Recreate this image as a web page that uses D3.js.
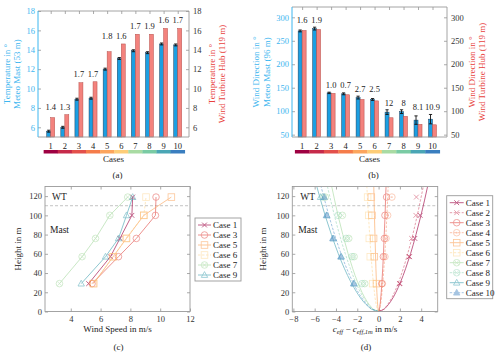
<!DOCTYPE html>
<html lang="en">
<head>
<meta charset="utf-8">
<script src="https://cdn.jsdelivr.net/npm/d3@7"></script>
<style>
body{margin:0;background:#fff}
svg text{font-family:"Liberation Serif","DejaVu Serif",serif;fill:#222}
</style>
</head>
<body>
<svg width="500" height="355"></svg>
<script>
// ---- data ----
var cases = [1,2,3,4,5,6,7,8,9,10];
var caseColors = ["#9e0142","#c62a4a","#e3504b","#f57c4a","#fca55d","#fdcd78","#a9dba3","#7acba4","#4aa6b5","#3a7ebf"];

var tempMast = [5.6, 6.0, 8.9, 9.0, 12.0, 13.1, 13.9, 13.7, 14.6, 14.5];
var tempMastErr = [0.1,0.1,0.1,0.1,0.1,0.1,0.1,0.1,0.1,0.1];
var tempHub = [7.0, 7.3, 10.6, 10.7, 13.8, 14.6, 15.6, 15.6, 16.2, 16.2];
var tempLabels = ["1.4","1.3","1.7","1.7","1.8","1.6","1.7","1.9","1.6","1.7"];
var tempTicks = [6,8,10,12,14,16,18];

var dirMast = [271, 276, 139, 137, 129, 125, 98, 99, 81, 83];
var dirMastErr = [2, 3, 1.5, 2, 3, 2, 5, 4, 9, 10];
var dirHub = [272, 274, 138, 135, 125, 122, 86, 89, 72, 71];
var dirLabels = ["1.6","1.9","1.0","0.7","2.7","2.5","12","8","8.1","10.9"];
var dirTicks = [50,100,150,200,250,300];

var heights = [29, 57, 76, 100, 119];
var speedCases = [1, 3, 5, 6, 7, 9];
var speed1 = [5.2, 6.66, 7.3, 8.1, 8.15];
var speed3 = [5.43, 7.2, 8.4, 9.68, 9.72];
var speed5 = [5.54, 6.84, 7.74, 8.9, 10.75];
var speed6 = [5.5, 6.85, 7.7, 8.9, 9.05];
var speed7 = [3.24, 4.76, 5.66, 6.62, 7.82];
var speed9 = [4.7, 6.33, 7.2, 7.74, 8.15];

var devPoints = [
  [2.0, 2.9, 3.4, 3.9, null],
  [1.95, 2.85, 3.1, 3.5, 3.55],
  [0.3, 0.45, 0.55, 0.6, 0.75],
  [0.35, 0.6, 0.7, 0.85, 1.25],
  [-0.2, -0.4, -0.47, -0.62, -0.68],
  [-0.56, -0.78, -0.87, -0.93, -1.03],
  [-1.3, -2.3, -2.8, -3.4, -5.0],
  [-1.55, -2.5, -3.05, -3.8, -5.2],
  [-2.3, -3.5, -4.25, -4.85, -5.45],
  [-2.35, -3.55, -4.3, -4.9, -5.1]
];
var curveHeights = [0, 2, 5, 10, 20, 30, 45, 60, 80, 100, 115, 130];
var devCurves = [
  [0, 0.45, 0.75, 1.11, 1.63, 2.04, 2.55, 3.0, 3.51, 3.98, 4.3, 4.6],
  [0, 0.42, 0.69, 1.01, 1.49, 1.86, 2.33, 2.73, 3.21, 3.63, 3.92, 4.2],
  [0, 0.07, 0.11, 0.17, 0.25, 0.31, 0.39, 0.46, 0.53, 0.61, 0.65, 0.7],
  [0, 0.09, 0.15, 0.22, 0.32, 0.4, 0.5, 0.59, 0.69, 0.78, 0.84, 0.9],
  [0, -0.04, -0.07, -0.11, -0.16, -0.2, -0.25, -0.29, -0.34, -0.39, -0.42, -0.45],
  [0, -0.11, -0.18, -0.27, -0.39, -0.49, -0.61, -0.72, -0.84, -0.95, -1.03, -1.1],
  [0, -0.44, -0.72, -1.06, -1.56, -1.95, -2.44, -2.86, -3.36, -3.81, -4.11, -4.4],
  [0, -0.48, -0.79, -1.16, -1.7, -2.13, -2.66, -3.12, -3.67, -4.15, -4.48, -4.8],
  [0, -0.57, -0.95, -1.4, -2.05, -2.57, -3.22, -3.78, -4.43, -5.02, -5.42, -5.8],
  [0, -0.53, -0.89, -1.3, -1.91, -2.39, -3.0, -3.52, -4.13, -4.67, -5.04, -5.4]
];
var markerTypes = ["x","x","o","od","s","s","ox","ox","t","tf"];

var svg = d3.select("svg");
var blueAxis = "#3db6ef", redTitle = "#e8413c", frameCol = "#9a9a9a";
var solidOp = 0.62, dashOp = 0.45;

function marker(g, type, cx, cy, color) {
  var s = 3.3;
  if (type == "x") {
    g.append("path").attr("d", "M"+(cx-2.4)+","+(cy-2.4)+"L"+(cx+2.4)+","+(cy+2.4)+"M"+(cx-2.4)+","+(cy+2.4)+"L"+(cx+2.4)+","+(cy-2.4))
      .attr("stroke", color).attr("stroke-width", 1);
  } else if (type == "o" || type == "od" || type == "ox") {
    g.append("circle").attr("cx", cx).attr("cy", cy).attr("r", s)
      .attr("fill", "none").attr("stroke", color).attr("stroke-width", 0.8);
    if (type == "od") g.append("circle").attr("cx", cx).attr("cy", cy).attr("r", 0.9).attr("fill", color);
    if (type == "ox") g.append("path").attr("d", "M"+(cx-2.2)+","+(cy-2.2)+"L"+(cx+2.2)+","+(cy+2.2)+"M"+(cx-2.2)+","+(cy+2.2)+"L"+(cx+2.2)+","+(cy-2.2))
      .attr("stroke", color).attr("stroke-width", 0.7);
  } else if (type == "s") {
    g.append("rect").attr("x", cx-s).attr("y", cy-s).attr("width", 2*s).attr("height", 2*s)
      .attr("fill", "none").attr("stroke", color).attr("stroke-width", 0.8);
  } else if (type == "t" || type == "tf") {
    g.append("path").attr("d", "M"+cx+","+(cy-3.4)+"L"+(cx+3.2)+","+(cy+2.4)+"L"+(cx-3.2)+","+(cy+2.4)+"Z")
      .attr("fill", type == "tf" ? color : "none").attr("stroke", color).attr("stroke-width", 0.8);
  }
}

function styleAxis(a, col) {
  a.select(".domain").remove();
  a.selectAll(".tick line").attr("stroke", "#aaa");
  a.selectAll(".tick text").attr("font-size", "8.5px").style("fill", col || "#333");
}

// ---- bar panels (a), (b) ----
function barPanel(o) {
  var x = d3.scaleLinear().domain(o.xDom).range([o.left, o.right]);
  var y = d3.scaleLinear().domain(o.yDom).range([o.bottom, o.top]);
  var g = svg.append("g");
  var bw = 4;

  g.append("g").attr("transform", "translate("+o.left+",0)")
    .call(d3.axisLeft(y).tickValues(o.ticks).tickSize(-3).tickPadding(3))
    .call(function(a){ styleAxis(a, blueAxis); });
  g.append("g").attr("transform", "translate("+o.right+",0)")
    .call(d3.axisRight(y).tickValues(o.ticks).tickSize(-3).tickPadding(4))
    .call(function(a){ styleAxis(a, "#333"); });
  g.append("g").attr("transform", "translate(0,"+o.top+")")
    .call(d3.axisTop(x).tickValues(cases).tickSize(-3).tickFormat(""))
    .call(function(a){ styleAxis(a); });

  // bars
  g.selectAll(".bm").data(o.mast).enter().append("rect")
    .attr("x", function(d,i){ return x(cases[i]) - bw; })
    .attr("y", function(d){ return y(d); })
    .attr("width", bw)
    .attr("height", function(d){ return o.bottom - y(d); })
    .attr("fill", "#1b9fe2").attr("stroke", "#1d3e5c").attr("stroke-width", 0.5);
  g.selectAll(".bh").data(o.hub).enter().append("rect")
    .attr("x", function(d,i){ return x(cases[i]); })
    .attr("y", function(d){ return y(d); })
    .attr("width", bw)
    .attr("height", function(d){ return o.bottom - y(d); })
    .attr("fill", "#f3827d").attr("stroke", "#b5504c").attr("stroke-width", 0.5);

  // error bars on mast bars
  o.mast.forEach(function(d, i) {
    var cx = x(cases[i]) - bw/2, e = o.err[i];
    g.append("path")
      .attr("d", "M"+cx+","+y(d-e)+"V"+y(d+e)+"M"+(cx-1.6)+","+y(d+e)+"H"+(cx+1.6)+"M"+(cx-1.6)+","+y(d-e)+"H"+(cx+1.6))
      .attr("stroke", "#111").attr("stroke-width", 0.9).attr("fill", "none");
  });

  // value labels, one level per pair of cases
  o.labels.forEach(function(t, i) {
    var j = i - i % 2;
    var top = d3.max([o.mast[j] + o.err[j], o.mast[j+1] + o.err[j+1], o.hub[j], o.hub[j+1]]);
    g.append("text").attr("x", x(cases[i])).attr("y", y(top) - o.labelGap)
      .attr("text-anchor", "middle").attr("font-size", "8.5px").text(t);
  });

  // frame
  g.append("path").attr("d", "M"+o.left+","+o.top+"H"+o.right+"V"+o.bottom+"H"+o.left)
    .attr("fill", "none").attr("stroke", frameCol).attr("stroke-width", 0.9);
  g.append("line").attr("x1", o.left).attr("x2", o.left).attr("y1", o.top).attr("y2", o.bottom)
    .attr("stroke", blueAxis).attr("stroke-width", 1);

  // case numbers + colour strip
  g.selectAll(".cn").data(cases).enter().append("text")
    .attr("x", function(d){ return x(d); }).attr("y", o.bottom + 11.5)
    .attr("text-anchor", "middle").attr("font-size", "8.5px").text(function(d){ return d; });
  g.selectAll(".cb").data(cases).enter().append("rect")
    .attr("x", function(d){ return x(d - 0.5); }).attr("y", o.bottom + 13)
    .attr("width", function(d){ return x(d + 0.5) - x(d - 0.5) + 0.3; }).attr("height", 3.5)
    .attr("fill", function(d, i){ return caseColors[i]; });
  g.append("text").attr("x", (o.left + o.right)/2).attr("y", o.bottom + 24.5)
    .attr("text-anchor", "middle").attr("font-size", "9px").text("Cases");

  // axis titles
  function title(xp, lines, col, cy) {
    lines.forEach(function(t, k) {
      g.append("text").attr("transform", "translate("+(xp[k])+","+cy+") rotate(-90)")
        .attr("text-anchor", "middle").attr("font-size", "9px").style("fill", col).text(t);
    });
  }
  var cy = (o.top + o.bottom) / 2;
  title(o.leftTitleX, o.leftTitle, blueAxis, cy);
  title(o.rightTitleX, o.rightTitle, redTitle, cy);

  g.append("text").attr("x", (o.left + o.right)/2 + 4).attr("y", 178)
    .attr("text-anchor", "middle").attr("font-size", "9px").text(o.caption);
}

barPanel({
  left: 38, right: 189, top: 11, bottom: 137,
  xDom: [0.1, 10.8], yDom: [5, 18], ticks: tempTicks,
  mast: tempMast, hub: tempHub, err: tempMastErr, labels: tempLabels, labelGap: 5,
  leftTitle: ["Temperature in °", "Meteo Mast (53 m)"], leftTitleX: [10, 20],
  rightTitle: ["Temperature in °", "Wind Turbine Hub (119 m)"], rightTitleX: [215, 225],
  caption: "(a)"
});
barPanel({
  left: 292, right: 447, top: 7, bottom: 137,
  xDom: [0.3, 11], yDom: [45, 322], ticks: dirTicks,
  mast: dirMast, hub: dirHub, err: dirMastErr, labels: dirLabels, labelGap: 4,
  leftTitle: ["Wind Direction in °", "Meteo Mast (96 m)"], leftTitleX: [259, 270],
  rightTitle: ["Wind Direction in °", "Wind Turbine Hub (119 m)"], rightTitleX: [475, 485],
  caption: "(b)"
});

// ---- profile panels (c), (d) ----
function profilePanel(o) {
  var x = d3.scaleLinear().domain(o.xDom).range([o.left, o.right]);
  var y = d3.scaleLinear().domain([0, 130]).range([o.bottom, o.top]);
  var g = svg.append("g");
  var yt = [0,20,40,60,80,100,120];

  g.append("g").attr("transform", "translate(0,"+o.bottom+")")
    .call(d3.axisBottom(x).tickValues(o.xTicks).tickSize(-3).tickPadding(4))
    .call(function(a){ styleAxis(a); });
  g.append("g").attr("transform", "translate(0,"+o.top+")")
    .call(d3.axisTop(x).tickValues(o.xTicks).tickSize(-3).tickFormat(""))
    .call(function(a){ styleAxis(a); });
  g.append("g").attr("transform", "translate("+o.left+",0)")
    .call(d3.axisLeft(y).tickValues(yt).tickSize(-3).tickPadding(3))
    .call(function(a){ styleAxis(a); });
  g.append("g").attr("transform", "translate("+o.right+",0)")
    .call(d3.axisRight(y).tickValues(yt).tickSize(-3).tickFormat(""))
    .call(function(a){ styleAxis(a); });

  var clipId = "clip" + o.caption.charAt(1);
  svg.append("clipPath").attr("id", clipId).append("rect")
    .attr("x", o.left).attr("y", o.top).attr("width", o.right - o.left).attr("height", o.bottom - o.top);

  g.append("line").attr("x1", o.left).attr("x2", o.right).attr("y1", y(110)).attr("y2", y(110))
    .attr("stroke", "#bbb").attr("stroke-dasharray", "3,2").attr("stroke-width", 0.9);

  var plot = g.append("g").attr("clip-path", "url(#"+clipId+")");
  o.draw(plot, x, y);

  g.append("rect").attr("x", o.left).attr("y", o.top).attr("width", o.right - o.left).attr("height", o.bottom - o.top)
    .attr("fill", "none").attr("stroke", frameCol).attr("stroke-width", 0.9);

  g.append("text").attr("x", o.left + o.wtDx).attr("y", y(120) + 3.5).attr("font-size", "9.5px").text("WT");
  g.append("text").attr("x", o.left + o.wtDx - 2).attr("y", y(85) + 3.5).attr("font-size", "9.5px").text("Mast");

  g.append("text").attr("transform", "translate("+o.yTitleX+","+((o.top+o.bottom)/2)+") rotate(-90)")
    .attr("text-anchor", "middle").attr("font-size", "9px").text("Height in m");
  var xl = g.append("text").attr("x", (o.left + o.right)/2).attr("y", 332)
    .attr("text-anchor", "middle").attr("font-size", "9px");
  o.xTitle(xl);
  g.append("text").attr("x", (o.left + o.right)/2 + 1).attr("y", 350)
    .attr("text-anchor", "middle").attr("font-size", "9px").text(o.caption);

  // legend
  var lg = g.append("g");
  lg.append("rect").attr("x", o.leg.x).attr("y", o.leg.y).attr("width", o.leg.w)
    .attr("height", o.leg.entries.length * 10 + 3)
    .attr("fill", "#fff").attr("stroke", frameCol).attr("stroke-width", 0.9);
  o.leg.entries.forEach(function(e, k) {
    var yy = o.leg.y + 7 + k * 10;
    var mg = lg.append("g").attr("opacity", e.dash ? dashOp : solidOp);
    mg.append("line").attr("x1", o.leg.x + 3).attr("x2", o.leg.x + 3 + o.leg.lw)
      .attr("y1", yy).attr("y2", yy).attr("stroke", caseColors[e.c - 1]).attr("stroke-width", 1)
      .attr("stroke-dasharray", e.dash ? "2.5,1.5" : null);
    marker(mg, markerTypes[e.c - 1], o.leg.x + 3 + o.leg.lw/2, yy, caseColors[e.c - 1]);
    lg.append("text").attr("x", o.leg.x + o.leg.lw + 5).attr("y", yy + 3)
      .attr("font-size", "9px").text("Case " + e.c);
  });
}

var speedSeries = [speed1, speed3, speed5, speed6, speed7, speed9];
profilePanel({
  left: 45, right: 190, top: 186.5, bottom: 311.5,
  xDom: [2.27, 12], xTicks: [4,6,8,10,12], wtDx: 7, yTitleX: 21,
  caption: "(c)",
  xTitle: function(t){ t.text("Wind Speed in m/s"); },
  draw: function(p, x, y) {
    speedSeries.forEach(function(s, k) {
      var c = speedCases[k], col = caseColors[c - 1], dash = c == 6;
      var pts = s.map(function(v, i){ return [v, heights[i]]; });
      var sg = p.append("g").attr("opacity", dash ? dashOp : solidOp);
      sg.append("path").datum(pts)
        .attr("d", d3.line().x(function(d){ return x(d[0]); }).y(function(d){ return y(d[1]); }))
        .attr("fill", "none").attr("stroke", col).attr("stroke-width", 1)
        .attr("stroke-dasharray", dash ? "2.5,1.5" : null);
      pts.forEach(function(d){ marker(sg, markerTypes[c - 1], x(d[0]), y(d[1]), col); });
    });
  },
  leg: { x: 195, y: 218, w: 46, lw: 13,
    entries: speedCases.map(function(c){ return {c: c, dash: c == 6}; }) }
});

profilePanel({
  left: 292.3, right: 437.7, top: 186.5, bottom: 311.5,
  xDom: [-8.1, 5.55], xTicks: [-8,-6,-4,-2,0,2,4], wtDx: 8, yTitleX: 266,
  caption: "(d)",
  xTitle: function(t){
    t.append("tspan").attr("font-style", "italic").text("c");
    t.append("tspan").attr("font-style", "italic").attr("font-size", "6.5px").attr("dy", 2).text("eff");
    t.append("tspan").attr("dy", -2).text(" − ");
    t.append("tspan").attr("font-style", "italic").text("c");
    t.append("tspan").attr("font-style", "italic").attr("font-size", "6.5px").attr("dy", 2).text("eff,1m");
    t.append("tspan").attr("dy", -2).text(" in m/s");
  },
  draw: function(p, x, y) {
    devCurves.forEach(function(cv, k) {
      var col = caseColors[k], dash = k % 2 == 1;
      var sg = p.append("g").attr("opacity", dash ? dashOp : solidOp);
      sg.append("path").datum(cv.map(function(v, i){ return [v, curveHeights[i]]; }))
        .attr("d", d3.line().curve(d3.curveMonotoneY).x(function(d){ return x(d[0]); }).y(function(d){ return y(d[1]); }))
        .attr("fill", "none").attr("stroke", col).attr("stroke-width", 1)
        .attr("stroke-dasharray", dash ? "2.5,1.5" : null);
      devPoints[k].forEach(function(v, i) {
        if (v !== null) marker(sg, markerTypes[k], x(v), y(heights[i]), col);
      });
    });
  },
  leg: { x: 446.7, y: 195.7, w: 46, lw: 14,
    entries: cases.map(function(c){ return {c: c, dash: c % 2 == 0}; }) }
});
</script>
</body>
</html>
